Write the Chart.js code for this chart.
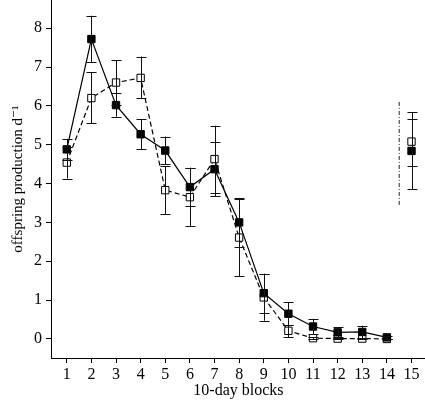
<!DOCTYPE html>
<html>
<head>
<meta charset="utf-8">
<script src="https://cdn.jsdelivr.net/npm/chart.js@4.4.1/dist/chart.umd.min.js"></script>
<style>
  html, body { margin: 0; padding: 0; background: #ffffff; overflow: hidden; }
  /* chart.js keeps a few px of label padding at the top/right; shift the canvas so the axes reach the edges */
  #wrap { width: 432px; height: 411px; position: relative; margin-top: -6px; }
</style>
</head>
<body>
<div id="wrap"><canvas id="chart"></canvas></div>
<script>
// 10-day blocks (block 15 is shown apart, after the dash-dot divider)
const blocks = [1, 2, 3, 4, 5, 6, 7, 8, 9, 10, 11, 12, 13, 14, 15];
const xTicks = [1, 2, 3, 4, 5, 6, 7, 8, 9, 10, 11, 12, 13, 14, 15];
const yTicks = [0, 1, 2, 3, 4, 5, 6, 7, 8];

// filled squares, solid line
const filledMean = [4.88, 7.72, 6.02, 5.27, 4.85, 3.91, 4.37, 3.00, 1.18, 0.65, 0.32, 0.17, 0.18, 0.04, 4.84];
const filledLo   = [4.61, 7.13, 5.72, 4.88, 4.50, 3.41, 3.67, 2.37, 0.68, 0.36, 0.12, 0.04, 0.02, 0.00, 3.85];
const filledHi   = [5.15, 8.32, 6.32, 5.66, 5.21, 4.41, 5.07, 3.63, 1.68, 0.94, 0.52, 0.30, 0.34, 0.08, 5.66];

// open squares, dashed line
const openMean = [4.54, 6.20, 6.60, 6.72, 3.83, 3.65, 4.63, 2.61, 1.07, 0.21, 0.02, 0.01, 0.01, 0.00, 5.08];
const openLo   = [4.13, 5.55, 6.02, 6.20, 3.22, 2.91, 3.77, 1.61, 0.47, 0.05, 0.00, 0.00, 0.00, 0.00, 4.46];
const openHi   = [4.95, 6.86, 7.18, 7.27, 4.45, 4.39, 5.49, 3.61, 1.67, 0.37, 0.04, 0.02, 0.02, 0.00, 5.84];

// dash-dot divider before block 15
const dividerX = [14.5, 14.5];
const dividerY = [3.45, 6.15];

const serif = "'Liberation Serif', 'DejaVu Serif', serif";

function toPoints(xs, ys) {
  return xs.map((x, i) => ({ x: x, y: ys[i] }));
}

// no line into the detached last block
const skipLast = ctx => ctx.p1DataIndex === blocks.length - 1 ? "transparent" : undefined;

// error bars drawn on top of the markers
const errorBars = {
  id: "errorBars",
  afterDatasetsDraw(chart) {
    const { ctx, scales: { x, y } } = chart;
    const sets = [[filledLo, filledHi], [openLo, openHi]];
    ctx.save();
    ctx.strokeStyle = "#111";
    ctx.lineWidth = 1;
    sets.forEach(([lo, hi]) => {
      blocks.forEach((b, i) => {
        const px = Math.round(x.getPixelForValue(b)) + 0.5;
        const yl = y.getPixelForValue(lo[i]);
        const yh = y.getPixelForValue(hi[i]);
        ctx.beginPath();
        ctx.moveTo(px, yl);
        ctx.lineTo(px, yh);
        ctx.moveTo(px - 5, Math.round(yl) + 0.5);
        ctx.lineTo(px + 5, Math.round(yl) + 0.5);
        ctx.moveTo(px - 5, Math.round(yh) + 0.5);
        ctx.lineTo(px + 5, Math.round(yh) + 0.5);
        ctx.stroke();
      });
    });
    ctx.restore();
  }
};

new Chart(document.getElementById("chart"), {
  type: "scatter",
  data: {
    datasets: [
      {
        label: "filled",
        data: toPoints(blocks, filledMean),
        showLine: true,
        borderColor: "#000",
        borderWidth: 1.2,
        backgroundColor: "#000",
        pointStyle: "rect",
        pointRadius: 5.2,
        pointBorderWidth: 1,
        segment: { borderColor: skipLast }
      },
      {
        label: "open",
        data: toPoints(blocks, openMean),
        showLine: true,
        borderColor: "#000",
        borderWidth: 1.2,
        borderDash: [5, 3],
        backgroundColor: "#fff",
        pointStyle: "rect",
        pointRadius: 5.2,
        pointBorderWidth: 1,
        segment: { borderColor: skipLast }
      },
      {
        label: "divider",
        data: toPoints(dividerX, dividerY),
        showLine: true,
        borderColor: "#222",
        borderWidth: 1,
        borderDash: [4, 2, 1, 2],
        pointRadius: 0
      }
    ]
  },
  options: {
    responsive: true,
    maintainAspectRatio: false,
    animation: false,
    layout: { padding: 0 },
    plugins: {
      legend: { display: false },
      tooltip: { enabled: false }
    },
    scales: {
      x: {
        type: "linear",
        min: 0.36,
        max: 15.58,
        afterBuildTicks: scale => { scale.ticks = xTicks.map(v => ({ value: v })); },
        afterFit: scale => {
          scale.height = 47;
          scale.paddingLeft = 0;
          scale.paddingRight = 0;
        },
        grid: { drawOnChartArea: false, drawTicks: true, tickLength: 5, color: "#000" },
        border: { display: true, color: "#000", width: 1 },
        ticks: {
          color: "#000",
          padding: 2,
          maxRotation: 0,
          autoSkip: false,
          font: { family: serif, size: 16 }
        },
        title: {
          display: true,
          text: "10-day blocks",
          color: "#000",
          padding: { top: 5, bottom: 5 },
          font: { family: serif, size: 16 }
        }
      },
      y: {
        min: -0.49,
        max: 8.72,
        afterBuildTicks: scale => { scale.ticks = yTicks.map(v => ({ value: v })); },
        afterFit: scale => {
          scale.width = 51;
          scale.paddingTop = 0;
          scale.paddingBottom = 0;
        },
        grid: { drawOnChartArea: false, drawTicks: true, tickLength: 5, color: "#000" },
        border: { display: true, color: "#000", width: 1 },
        ticks: {
          color: "#000",
          padding: 4,
          font: { family: serif, size: 16 }
        },
        title: {
          display: true,
          text: "offspring production d\u207B\u00B9",
          color: "#000",
          padding: { top: 9, bottom: 0 },
          font: { family: serif, size: 15 }
        }
      }
    }
  },
  plugins: [errorBars]
});
</script>
</body>
</html>
